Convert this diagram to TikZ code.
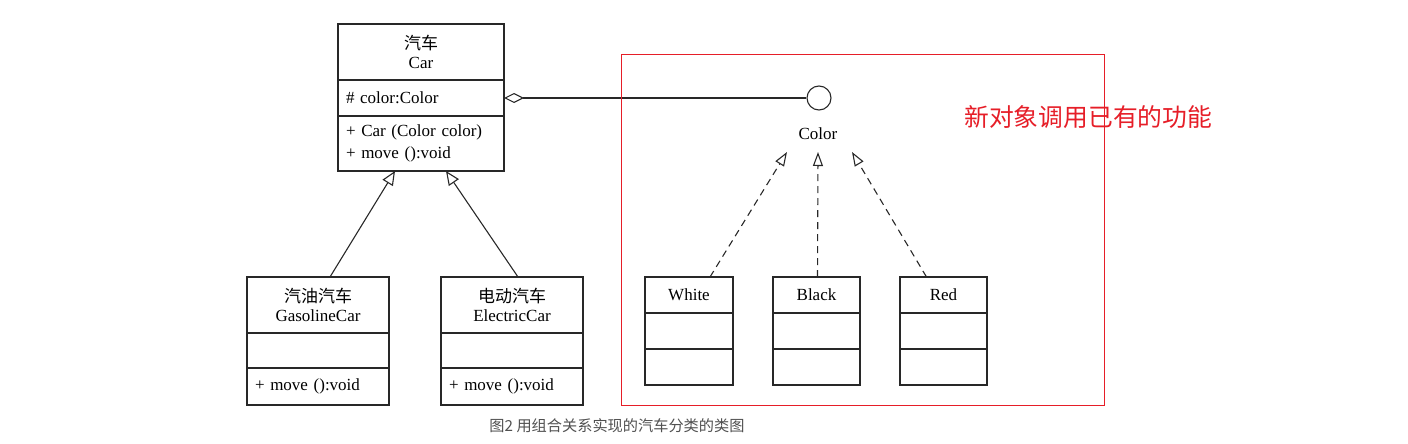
\documentclass[tikz,border=0pt]{standalone}
\usepackage{fontspec}
\setmainfont{Liberation Serif}
\newfontfamily\cjk{Noto Sans CJK SC}
\usetikzlibrary{arrows.meta}
\definecolor{lineclr}{RGB}{40,40,40}
\definecolor{redclr}{RGB}{230,30,40}
\definecolor{capclr}{RGB}{80,80,80}
\tikzset{
  cls/.style={draw=lineclr, line width=1.1pt, minimum width=#1, inner sep=0pt, outer sep=0pt, anchor=north west, align=center, font=\fontsize{17pt}{19pt}\selectfont},
  lft/.style={align=left, inner xsep=8pt, text width=#1},
  gen/.style={draw=lineclr, line width=1.1pt, -{Triangle[open,length=14pt,width=12pt]}},
  real/.style={draw=lineclr, line width=1.1pt, dash pattern=on 7pt off 5pt, -{Triangle[open,length=14pt,width=10pt]}},
  agg/.style={draw=lineclr, line width=1.1pt, {Diamond[open,length=20pt,width=10pt]}-}
}
\begin{document}
\begin{tikzpicture}[x=1pt,y=-1pt]
\useasboundingbox (0,0) rectangle (1408,444);
% Car
\node[cls=166pt, minimum height=56pt] (cart) at (338,24) {{\cjk\fontsize{17pt}{19pt}\selectfont 汽车}\\Car};
\node[cls=166pt, minimum height=36pt, lft=150pt] (cara) at (338,80) {\# color:Color};
\node[cls=166pt, minimum height=55pt, lft=150pt, font=\fontsize{17pt}{22pt}\selectfont] (carm) at (338,116) {+ Car (Color color)\\+ move ():void};
% GasolineCar
\node[cls=142pt, minimum height=56pt] (gt) at (247,277) {{\cjk\fontsize{17pt}{19pt}\selectfont 汽油汽车}\\GasolineCar};
\node[cls=142pt, minimum height=35pt] (ga) at (247,333) {};
\node[cls=142pt, minimum height=37pt, lft=126pt] (gm) at (247,368) {+ move ():void};
% ElectricCar
\node[cls=142pt, minimum height=56pt] (et) at (441,277) {{\cjk\fontsize{17pt}{19pt}\selectfont 电动汽车}\\ElectricCar};
\node[cls=142pt, minimum height=35pt] (ea) at (441,333) {};
\node[cls=142pt, minimum height=37pt, lft=126pt] (em) at (441,368) {+ move ():void};
% White
\node[cls=88pt, minimum height=36pt] (wt) at (645,277) {White};
\node[cls=88pt, minimum height=36pt] (wa) at (645,313) {};
\node[cls=88pt, minimum height=36pt] (wm) at (645,349) {};
% Black
\node[cls=87pt, minimum height=36pt] (bt) at (773,277) {Black};
\node[cls=87pt, minimum height=36pt] (ba) at (773,313) {};
\node[cls=87pt, minimum height=36pt] (bm) at (773,349) {};
% Red
\node[cls=87pt, minimum height=36pt] (rt) at (900,277) {Red};
\node[cls=87pt, minimum height=36pt] (ra) at (900,313) {};
\node[cls=87pt, minimum height=36pt] (rm) at (900,349) {};
% Interface
\node[circle, draw=lineclr, line width=1.1pt, minimum size=24pt, inner sep=0pt] (iface) at (819,98) {};
\node[font=\fontsize{17pt}{19pt}\selectfont, inner sep=0pt] (colorlbl) at (818,134) {Color};
\coordinate (tipW) at (787,152);
\coordinate (tipB) at (818,152);
\coordinate (tipR) at (852,152);
% connectors
\draw[agg] (cara.east) -- (iface.west);
\draw[gen] ([xshift=12pt]gt.north) -- ([xshift=-26pt]carm.south);
\draw[gen] ([xshift=6pt]et.north) -- ([xshift=25pt]carm.south);
\draw[real] ([xshift=21pt]wt.north) -- (tipW);
\draw[real] ([xshift=1pt]bt.north) -- (tipB);
\draw[real] ([xshift=-17pt]rt.north) -- (tipR);
% red frame and note
\node[draw=redclr, line width=1.3pt, minimum width=483pt, minimum height=351pt, anchor=north west, inner sep=0pt] (frame) at (621,54) {};
\node[text=redclr, font=\cjk\fontsize{24.8pt}{28pt}\selectfont, anchor=west, inner sep=0pt] (note) at (964,117) {新对象调用已有的功能};
% caption
\node[text=capclr, font=\cjk\fontsize{15.2pt}{17pt}\selectfont, inner sep=0pt] (caption) at (617,426) {图2 用组合关系实现的汽车分类的类图};
\end{tikzpicture}
\end{document}
